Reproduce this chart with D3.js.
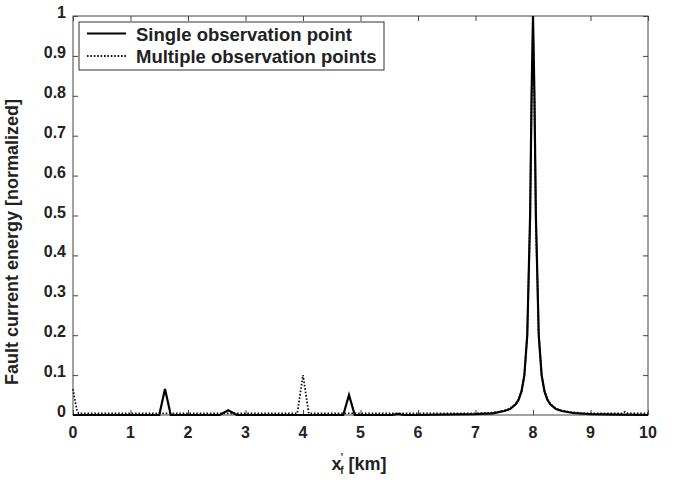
<!DOCTYPE html>
<html>
<head>
<meta charset="utf-8">
<script src="https://cdn.jsdelivr.net/npm/d3@7"></script>
<style>
  body { margin: 0; background: #fff; }
  svg { font-family: 'Liberation Sans', Arial, sans-serif; }
  .tick-label { font-size: 16px; font-weight: bold; fill: #222; }
</style>
</head>
<body>
<div id="chart"></div>
<script>
// Single observation point (solid line)
const singleX = [0, 1.5, 1.6, 1.7, 2.55, 2.7, 2.85, 4.7, 4.8, 4.9, 5.55, 5.65, 5.75, 6.0, 7.0, 7.3, 7.5, 7.6, 7.7, 7.75, 7.8, 7.85, 7.9, 7.95, 7.975, 8.0, 8.025, 8.05, 8.1, 8.15, 8.2, 8.25, 8.3, 8.4, 8.5, 8.7, 9.0, 9.5, 10];
const singleY = [0, 0, 0.065, 0, 0, 0.012, 0, 0, 0.05, 0, 0, 0.003, 0, 0, 0.002, 0.004, 0.01, 0.015, 0.027, 0.038, 0.059, 0.1, 0.2, 0.5, 0.8, 1.0, 0.8, 0.5, 0.2, 0.1, 0.059, 0.038, 0.027, 0.015, 0.01, 0.005, 0.002, 0.001, 0];

// Multiple observation points (dotted line)
const multiX = [0, 0.03, 0.07, 0.1, 3.9, 4.0, 4.1, 7.0, 7.3, 7.5, 7.6, 7.7, 7.75, 7.8, 7.85, 7.9, 7.95, 7.975, 8.0, 8.025, 8.05, 8.1, 8.15, 8.2, 8.25, 8.3, 8.4, 8.5, 8.7, 8.75, 8.8, 9.55, 9.6, 9.65, 10];
const multiY = [0.065, 0.04, 0.01, 0.004, 0.004, 0.1, 0.004, 0.004, 0.006, 0.011, 0.016, 0.028, 0.04, 0.06, 0.1, 0.2, 0.49, 0.78, 0.98, 0.78, 0.49, 0.2, 0.1, 0.06, 0.04, 0.028, 0.016, 0.011, 0.006, 0.008, 0.004, 0.004, 0.008, 0.004, 0.004];

const xTicks = [0, 1, 2, 3, 4, 5, 6, 7, 8, 9, 10];
const yTicks = [0, 0.1, 0.2, 0.3, 0.4, 0.5, 0.6, 0.7, 0.8, 0.9, 1];
const yTickLabels = ['0', '0.1', '0.2', '0.3', '0.4', '0.5', '0.6', '0.7', '0.8', '0.9', '1'];
const legendLabels = ['Single observation point', 'Multiple observation points'];

const width = 685, height = 480;
const mLeft = 73, mRight = 648, mTop = 16, mBottom = 415;

const svg = d3.select('#chart').append('svg')
  .attr('width', width)
  .attr('height', height);

const x = d3.scaleLinear().domain([0, 10]).range([mLeft, mRight]);
const y = d3.scaleLinear().domain([0, 1]).range([mBottom, mTop]);

// Frame
svg.append('rect')
  .attr('x', mLeft).attr('y', mTop)
  .attr('width', mRight - mLeft).attr('height', mBottom - mTop)
  .attr('fill', 'none').attr('stroke', '#444').attr('stroke-width', 1);

// Inward ticks on all four sides
const tickLen = 5;
const axes = svg.append('g');
axes.append('g').attr('transform', `translate(0,${mBottom})`)
  .call(d3.axisBottom(x).tickValues(xTicks).tickSize(-tickLen).tickFormat(''))
  .call((a) => a.select('.domain').remove());
axes.append('g').attr('transform', `translate(0,${mTop})`)
  .call(d3.axisTop(x).tickValues(xTicks).tickSize(-tickLen).tickFormat(''))
  .call((a) => a.select('.domain').remove());
axes.append('g').attr('transform', `translate(${mLeft},0)`)
  .call(d3.axisLeft(y).tickValues(yTicks).tickSize(-tickLen).tickFormat(''))
  .call((a) => a.select('.domain').remove());
axes.append('g').attr('transform', `translate(${mRight},0)`)
  .call(d3.axisRight(y).tickValues(yTicks).tickSize(-tickLen).tickFormat(''))
  .call((a) => a.select('.domain').remove());
axes.selectAll('.tick line').attr('stroke', '#444');

// Tick labels
svg.append('g').selectAll('text')
  .data(xTicks)
  .join('text')
  .attr('class', 'tick-label')
  .attr('x', (d) => x(d))
  .attr('y', mBottom + 22.5)
  .attr('text-anchor', 'middle')
  .text((d) => d);

svg.append('g').selectAll('text')
  .data(yTicks)
  .join('text')
  .attr('class', 'tick-label')
  .attr('x', mLeft - 7)
  .attr('y', (d) => y(d) + 2)
  .attr('text-anchor', 'end')
  .text((d, i) => yTickLabels[i]);

// Axis titles
const xTitle = svg.append('text')
  .attr('x', 359).attr('y', 470)
  .attr('text-anchor', 'middle')
  .attr('font-size', 18).attr('font-weight', 'bold').attr('fill', '#222');
xTitle.append('tspan').text('x');
xTitle.append('tspan').attr('font-size', 10).attr('dy', -9).attr('dx', -1).text('\u2019');
xTitle.append('tspan').attr('font-size', 10).attr('dy', 13).attr('dx', -3).text('f');
xTitle.append('tspan').attr('dy', -4).text(' [km]');

svg.append('text')
  .attr('transform', `translate(18,242) rotate(-90)`)
  .attr('text-anchor', 'middle')
  .attr('font-size', 18).attr('font-weight', 'bold').attr('fill', '#222')
  .text('Fault current energy [normalized]');

// Lines
const line = d3.line().x((d) => x(d[0])).y((d) => y(d[1]));
const single = singleX.map((v, i) => [v, singleY[i]]);
const multi = multiX.map((v, i) => [v, multiY[i]]);

svg.append('path')
  .datum(multi)
  .attr('d', line)
  .attr('fill', 'none')
  .attr('stroke', '#111')
  .attr('stroke-width', 1.8)
  .attr('stroke-dasharray', '1.6,1.8');

svg.append('path')
  .datum(single)
  .attr('d', line)
  .attr('fill', 'none')
  .attr('stroke', '#000')
  .attr('stroke-width', 2.2);

// Legend
const legend = svg.append('g');
legend.append('rect')
  .attr('x', 79).attr('y', 22)
  .attr('width', 305).attr('height', 48)
  .attr('fill', '#fff').attr('stroke', '#333').attr('stroke-width', 1);
legend.append('line')
  .attr('x1', 87).attr('x2', 126).attr('y1', 33.5).attr('y2', 33.5)
  .attr('stroke', '#000').attr('stroke-width', 2.2);
legend.append('line')
  .attr('x1', 87).attr('x2', 126).attr('y1', 56).attr('y2', 56)
  .attr('stroke', '#111').attr('stroke-width', 1.8).attr('stroke-dasharray', '1.6,1.8');
legend.selectAll('text')
  .data(legendLabels)
  .join('text')
  .attr('x', 136)
  .attr('y', (d, i) => 40.5 + i * 22)
  .attr('font-size', 18.5).attr('font-weight', 'bold').attr('fill', '#222')
  .text((d) => d);
</script>
</body>
</html>
